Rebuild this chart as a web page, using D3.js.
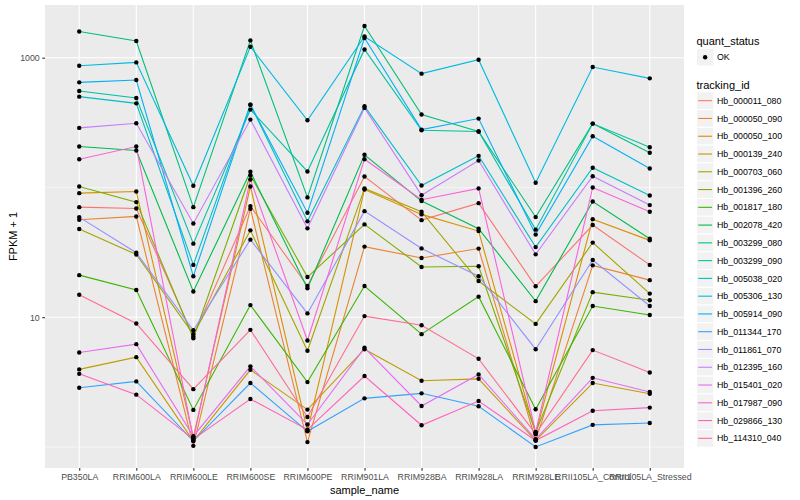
<!DOCTYPE html>
<html>
<head>
<meta charset="utf-8">
<script src="https://cdn.jsdelivr.net/npm/d3@7"></script>
<style>
  body { margin: 0; background: #fff; }
  svg { display: block; }
  text { font-family: 'Liberation Sans', Arial, sans-serif; }
</style>
</head>
<body>
<svg id="chart" width="800" height="500"></svg>
<script>
var samples = ['PB350LA', 'RRIM600LA', 'RRIM600LE', 'RRIM600SE', 'RRIM600PE', 'RRIM901LA',
  'RRIM928BA', 'RRIM928LA', 'RRIM928LE', 'RRII105LA_Control', 'RRII105LA_Stressed'];

var trackingIds = ['Hb_000011_080', 'Hb_000050_090', 'Hb_000050_100', 'Hb_000139_240',
  'Hb_000703_060', 'Hb_001396_260', 'Hb_001817_180', 'Hb_002078_420', 'Hb_003299_080',
  'Hb_003299_090', 'Hb_005038_020', 'Hb_005306_130', 'Hb_005914_090', 'Hb_011344_170',
  'Hb_011861_070', 'Hb_012395_160', 'Hb_015401_020', 'Hb_017987_090', 'Hb_029866_130',
  'Hb_114310_040'];

// FPKM + 1, one row per tracking_id, one column per sample
var fpkmPlusOne = [
  [70.5, 68.9, 7.1, 71.8, 17.4, 121.5, 56.0, 75.7, 17.3, 51.3, 25.3],
  [56.4, 59.8, 1.02, 68.6, 1.09, 35.0, 28.6, 33.8, 1.13, 25.1, 19.3],
  [90.4, 93.1, 1.19, 101.8, 1.33, 96.5, 62.0, 46.1, 1.26, 57.0, 39.1],
  [3.96, 4.92, 1.11, 3.93, 1.94, 5.67, 3.24, 3.35, 1.12, 3.11, 2.57],
  [47.8, 30.4, 7.40, 46.7, 5.51, 98.3, 65.0, 19.0, 8.88, 37.6, 15.2],
  [101.8, 77.1, 6.89, 124.3, 20.4, 51.9, 24.4, 24.7, 1.30, 15.6, 13.5],
  [21.1, 16.2, 1.93, 12.4, 3.16, 17.4, 7.40, 14.4, 1.95, 12.2, 10.4],
  [206.7, 192.6, 15.8, 132.1, 16.7, 178.5, 78.5, 48.1, 13.3, 78.0, 40.3],
  [1593, 1344, 70.5, 1359, 83.8, 1754, 364.6, 269.6, 59.1, 310.7, 184.9],
  [554.6, 489.8, 36.9, 398.1, 132.8, 1158, 275.9, 269.6, 47.3, 310.7, 204.2],
  [501.2, 444.9, 25.3, 434.9, 54.8, 422.0, 103.6, 175.3, 34.7, 141.8, 86.8],
  [867.5, 920.2, 103.0, 1215, 329.4, 1458, 753.6, 965.6, 108.7, 848.0, 693.0],
  [645.7, 673.6, 20.7, 434.9, 63.9, 1418, 279.3, 339.5, 43.3, 248.1, 140.0],
  [2.86, 3.20, 1.11, 3.11, 1.32, 2.37, 2.59, 2.06, 1.00, 1.48, 1.53],
  [59.1, 31.4, 7.94, 39.6, 10.7, 65.7, 33.9, 20.7, 5.67, 27.6, 12.2],
  [287.8, 312.4, 52.8, 333.4, 48.4, 410.3, 87.2, 161.3, 30.5, 122.1, 73.1],
  [5.35, 6.20, 1.21, 4.18, 1.49, 5.81, 2.07, 3.62, 1.15, 3.41, 2.65],
  [165.1, 206.7, 1.15, 115.2, 6.62, 165.1, 80.4, 98.3, 1.30, 100, 65.0],
  [3.66, 2.53, 1.15, 2.34, 1.36, 3.52, 1.47, 2.26, 1.12, 1.90, 2.01],
  [14.9, 8.95, 2.79, 7.99, 1.70, 10.2, 8.68, 4.78, 1.26, 5.58, 3.75]
];

var quantStatus = ['OK'];
var yBreaks = [10, 1000];
var yMinorBreaks = [1, 100];

// ggplot hue palette for 20 levels
var hueColors = ['#F8766D', '#EA8331', '#D89000', '#C09B00', '#A3A500', '#7CAE00', '#39B600',
  '#00BB4E', '#00BF7D', '#00C1A3', '#00BFC4', '#00BAE0', '#00B0F6', '#35A2FF', '#9590FF',
  '#C77CFF', '#E76BF3', '#FA62DB', '#FF62BC', '#FF6C91'];

(function () {
  "use strict";

  var panel = { left: 45, top: 5, right: 684, bottom: 468 };
  var svg = d3.select('#chart');

  var series = trackingIds.map(function (id, i) {
    return {
      id: id,
      values: samples.map(function (s, j) { return { sample: s, value: fpkmPlusOne[i][j] }; })
    };
  });

  // log range expanded by 5% like ggplot
  var logExt = d3.extent(d3.merge(fpkmPlusOne), function (v) { return Math.log10(v); });
  var pad = (logExt[1] - logExt[0]) * 0.05;

  var x = d3.scalePoint()
    .domain(samples)
    .range([panel.left, panel.right])
    .padding(0.6);

  var y = d3.scaleLog()
    .domain([Math.pow(10, logExt[0] - pad), Math.pow(10, logExt[1] + pad)])
    .range([panel.bottom, panel.top]);

  var color = d3.scaleOrdinal().domain(trackingIds).range(hueColors);

  // panel background
  svg.append('rect')
    .attr('x', panel.left).attr('y', panel.top)
    .attr('width', panel.right - panel.left)
    .attr('height', panel.bottom - panel.top)
    .attr('fill', '#EBEBEB');

  var grid = svg.append('g').attr('class', 'grid');
  grid.selectAll('line.minor-y')
    .data(yMinorBreaks)
    .enter().append('line')
    .attr('x1', panel.left).attr('x2', panel.right)
    .attr('y1', function (d) { return y(d); })
    .attr('y2', function (d) { return y(d); })
    .attr('stroke', '#fff').attr('stroke-width', 0.55);
  grid.selectAll('line.major-y')
    .data(yBreaks)
    .enter().append('line')
    .attr('x1', panel.left).attr('x2', panel.right)
    .attr('y1', function (d) { return y(d); })
    .attr('y2', function (d) { return y(d); })
    .attr('stroke', '#fff').attr('stroke-width', 1.1);
  grid.selectAll('line.major-x')
    .data(samples)
    .enter().append('line')
    .attr('y1', panel.top).attr('y2', panel.bottom)
    .attr('x1', function (d) { return x(d); })
    .attr('x2', function (d) { return x(d); })
    .attr('stroke', '#fff').attr('stroke-width', 1.1);

  var line = d3.line()
    .x(function (d) { return x(d.sample); })
    .y(function (d) { return y(d.value); });

  svg.append('g').attr('class', 'lines')
    .selectAll('path')
    .data(series)
    .enter().append('path')
    .attr('d', function (d) { return line(d.values); })
    .attr('fill', 'none')
    .attr('stroke', function (d) { return color(d.id); })
    .attr('stroke-width', 1.1);

  svg.append('g').attr('class', 'points')
    .selectAll('circle')
    .data(d3.merge(series.map(function (s) { return s.values; })))
    .enter().append('circle')
    .attr('cx', function (d) { return x(d.sample); })
    .attr('cy', function (d) { return y(d.value); })
    .attr('r', 2.2)
    .attr('fill', '#000');

  // axes
  var yAxis = svg.append('g')
    .attr('transform', 'translate(' + panel.left + ',0)')
    .call(d3.axisLeft(y).tickValues(yBreaks).tickFormat(d3.format('d')).tickSize(2.75).tickPadding(2.5));
  var xAxis = svg.append('g')
    .attr('transform', 'translate(0,' + panel.bottom + ')')
    .call(d3.axisBottom(x).tickSize(2.75).tickPadding(3.5));

  [xAxis, yAxis].forEach(function (ax) {
    ax.select('.domain').remove();
    ax.selectAll('.tick line').attr('stroke', '#333333').attr('stroke-width', 1.1);
    ax.selectAll('.tick text')
      .attr('fill', '#4D4D4D')
      .attr('font-size', 8.8)
      .attr('font-family', "'Liberation Sans', Arial, sans-serif");
  });

  svg.append('text')
    .attr('x', (panel.left + panel.right) / 2)
    .attr('y', 494)
    .attr('text-anchor', 'middle')
    .attr('font-size', 11)
    .text('sample_name');

  svg.append('text')
    .attr('transform', 'translate(16.5,' + ((panel.top + panel.bottom) / 2) + ') rotate(-90)')
    .attr('text-anchor', 'middle')
    .attr('font-size', 11)
    .text('FPKM + 1');

  // legends
  var legX = 696.5, keySize = 17.28, textX = 717;
  var leg = svg.append('g').attr('class', 'legend');

  leg.append('text').attr('x', legX).attr('y', 44.5).attr('font-size', 11).text('quant_status');
  var qs = leg.selectAll('g.qs')
    .data(quantStatus)
    .enter().append('g')
    .attr('transform', function (d, i) { return 'translate(0,' + (57.3 + i * 17.77) + ')'; });
  qs.append('rect')
    .attr('x', legX).attr('y', -keySize / 2)
    .attr('width', keySize).attr('height', keySize)
    .attr('fill', '#F2F2F2').attr('stroke', '#fff');
  qs.append('circle').attr('cx', legX + keySize / 2).attr('cy', 0).attr('r', 2.2).attr('fill', '#000');
  qs.append('text').attr('x', textX).attr('y', 3.1).attr('font-size', 8.8).text(function (d) { return d; });

  leg.append('text').attr('x', legX).attr('y', 89).attr('font-size', 11).text('tracking_id');
  var ti = leg.selectAll('g.ti')
    .data(trackingIds)
    .enter().append('g')
    .attr('transform', function (d, i) { return 'translate(0,' + (100.7 + i * 17.77) + ')'; });
  ti.append('rect')
    .attr('x', legX).attr('y', -17.77 / 2)
    .attr('width', keySize).attr('height', 17.77)
    .attr('fill', '#F2F2F2').attr('stroke', '#fff');
  ti.append('line')
    .attr('x1', legX + 1.7).attr('x2', legX + keySize - 1.7)
    .attr('y1', 0).attr('y2', 0)
    .attr('stroke', function (d) { return color(d); })
    .attr('stroke-width', 1.1);
  ti.append('text').attr('x', textX).attr('y', 3.1).attr('font-size', 8.8).text(function (d) { return d; });
}());
</script>
</body>
</html>
